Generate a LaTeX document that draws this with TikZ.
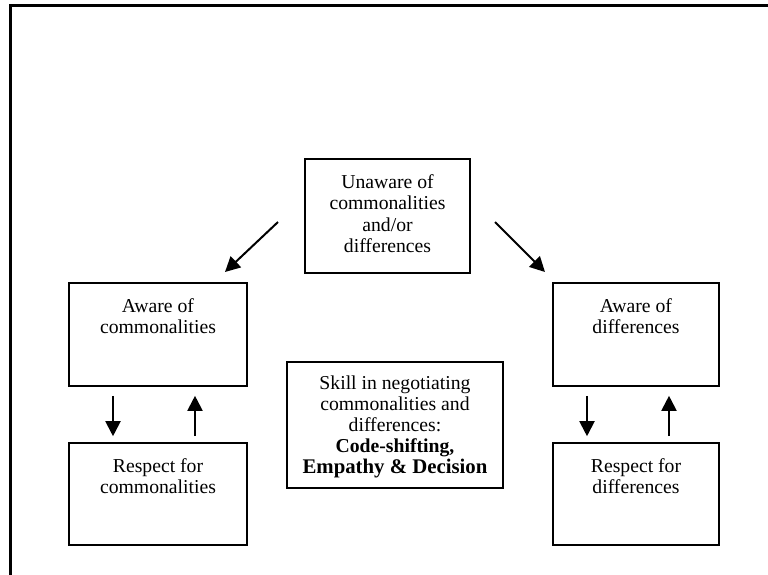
\documentclass[tikz,border=0pt]{standalone}
\usepackage{fontspec}
\setmainfont{Liberation Serif}
\usetikzlibrary{arrows.meta}
\begin{document}
\begin{tikzpicture}[x=1pt,y=-1pt,
  box/.style={draw=black, line width=1.6pt, inner sep=0pt, minimum width=#1},
  txt/.style={align=center, inner sep=0pt, anchor=north, font=\fontsize{19.7}{21.6}\selectfont},
  arr/.style={line width=2pt, -{Triangle[length=15pt,width=15pt]}}]
\useasboundingbox (0,0) rectangle (768,574);
\draw[line width=2.2pt] (10.5,580) -- (10.5,5.5) -- (775,5.5);
% boxes
\node[box=165, minimum height=114] (top) at (387.5,216) {};
\node[box=178, minimum height=103] (ac) at (158,334.5) {};
\node[box=178, minimum height=102] (rc) at (158,494) {};
\node[box=166, minimum height=103] (ad) at (636,334.5) {};
\node[box=166, minimum height=102] (rd) at (636,494) {};
\node[box=216, minimum height=126] (sk) at (395,425) {};
% texts
\node[txt] (ttop) at (387.5,174) {Unaware of\\commonalities\\and/or\\differences};
\node[txt] (tac) at (158,298) {Aware of\\commonalities};
\node[txt] (trc) at (158,458) {Respect for\\commonalities};
\node[txt] (tad) at (636,298) {Aware of\\differences};
\node[txt] (trd) at (636,458) {Respect for\\differences};
\node[txt, font=\fontsize{19.7}{20.8}\selectfont] (tsk) at (395,376) {Skill in negotiating\\commonalities and\\differences:\\\textbf{Code-shifting,}\\\textbf{\fontsize{20.8}{20.8}\selectfont Empathy \& Decision}};
% arrow coordinates
\coordinate (l1s) at (278,222);
\coordinate (l1e) at (225,272);
\coordinate (r1s) at (495,222);
\coordinate (r1e) at (545,272);
\coordinate (xa) at (113,0);
\coordinate (xb) at (195,0);
\coordinate (xc) at (587,0);
\coordinate (xd) at (669,0);
\draw[arr] (l1s) -- (l1e);
\draw[arr] (r1s) -- (r1e);
\draw[arr, shorten <=9pt, shorten >=6pt] (ac.south -| xa) -- (rc.north -| xa);
\draw[arr, shorten <=6pt, shorten >=9pt] (rc.north -| xb) -- (ac.south -| xb);
\draw[arr, shorten <=9pt, shorten >=6pt] (ad.south -| xc) -- (rd.north -| xc);
\draw[arr, shorten <=6pt, shorten >=9pt] (rd.north -| xd) -- (ad.south -| xd);
\end{tikzpicture}
\end{document}
